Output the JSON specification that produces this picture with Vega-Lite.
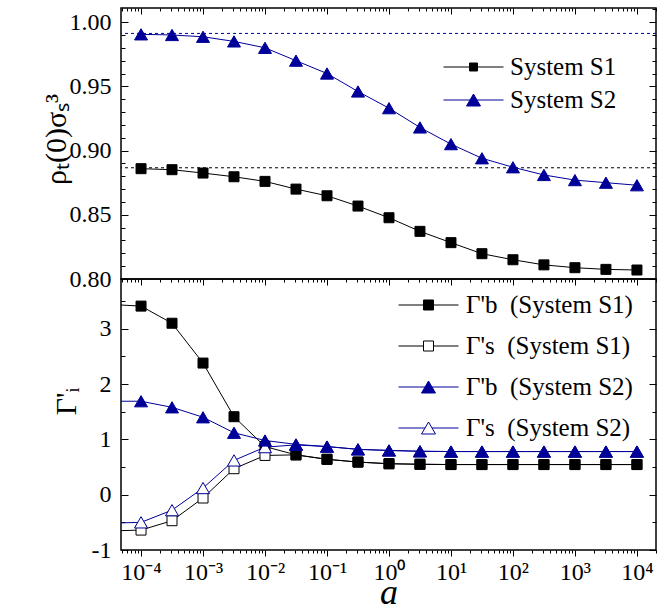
{
  "$schema": "https://vega.github.io/schema/vega-lite/v6.json",
  "padding": {"left": 40, "top": 6, "right": 5, "bottom": 2},
  "spacing": 0,
  "bounds": "flush",
  "config": {
    "font": "'Liberation Serif', 'Times New Roman', serif",
    "view": {"stroke": "black", "strokeWidth": 1.5},
    "axis": {"domain": false, "grid": false, "tickColor": "black", "tickWidth": 1, "labelColor": "black", "labelFont": "'Liberation Serif', 'Times New Roman', serif", "labelFontSize": 24, "titleFont": "'Liberation Serif', 'Times New Roman', serif", "titleColor": "black", "titleFontWeight": "normal", "labelFlush": false, "labelOverlap": false, "labelBound": false},
    "legend": {"labelFont": "'Liberation Serif', 'Times New Roman', serif", "labelFontSize": 25, "labelColor": "black", "labelLimit": 0, "padding": 0, "symbolStrokeWidth": 1, "symbolOpacity": 1, "clipHeight": 24, "direction": "vertical"}
  },
  "resolve": {"scale": {"color": "independent", "fill": "independent", "stroke": "independent", "shape": "independent"}},
  "datasets": {
    "top": [
      {"a": 0.0001, "v": 0.8859, "s": "System S1"},
      {"a": 0.000316, "v": 0.8851, "s": "System S1"},
      {"a": 0.001, "v": 0.8825, "s": "System S1"},
      {"a": 0.00316, "v": 0.8796, "s": "System S1"},
      {"a": 0.01, "v": 0.876, "s": "System S1"},
      {"a": 0.0316, "v": 0.870, "s": "System S1"},
      {"a": 0.1, "v": 0.8648, "s": "System S1"},
      {"a": 0.316, "v": 0.8568, "s": "System S1"},
      {"a": 1, "v": 0.8477, "s": "System S1"},
      {"a": 3.16, "v": 0.8371, "s": "System S1"},
      {"a": 10, "v": 0.8283, "s": "System S1"},
      {"a": 31.6, "v": 0.8197, "s": "System S1"},
      {"a": 100, "v": 0.815, "s": "System S1"},
      {"a": 316, "v": 0.811, "s": "System S1"},
      {"a": 1000, "v": 0.8088, "s": "System S1"},
      {"a": 3160, "v": 0.8075, "s": "System S1"},
      {"a": 10000, "v": 0.807, "s": "System S1"},
      {"a": 0.0001, "v": 0.9905, "s": "System S2"},
      {"a": 0.000316, "v": 0.990, "s": "System S2"},
      {"a": 0.001, "v": 0.9886, "s": "System S2"},
      {"a": 0.00316, "v": 0.985, "s": "System S2"},
      {"a": 0.01, "v": 0.980, "s": "System S2"},
      {"a": 0.0316, "v": 0.970, "s": "System S2"},
      {"a": 0.1, "v": 0.960, "s": "System S2"},
      {"a": 0.316, "v": 0.946, "s": "System S2"},
      {"a": 1, "v": 0.933, "s": "System S2"},
      {"a": 3.16, "v": 0.918, "s": "System S2"},
      {"a": 10, "v": 0.905, "s": "System S2"},
      {"a": 31.6, "v": 0.894, "s": "System S2"},
      {"a": 100, "v": 0.887, "s": "System S2"},
      {"a": 316, "v": 0.881, "s": "System S2"},
      {"a": 1000, "v": 0.877, "s": "System S2"},
      {"a": 3160, "v": 0.875, "s": "System S2"},
      {"a": 10000, "v": 0.873, "s": "System S2"}
    ],
    "bot": [
      {"a": 0.0000316, "v": -0.655, "s": "Γ's\u2002(System S1)"},
      {"a": 0.0001, "v": -0.64, "s": "Γ's\u2002(System S1)"},
      {"a": 0.000316, "v": -0.47, "s": "Γ's\u2002(System S1)"},
      {"a": 0.001, "v": -0.06, "s": "Γ's\u2002(System S1)"},
      {"a": 0.00316, "v": 0.47, "s": "Γ's\u2002(System S1)"},
      {"a": 0.01, "v": 0.71, "s": "Γ's\u2002(System S1)"},
      {"a": 0.0316, "v": 0.72, "s": "Γ's\u2002(System S1)"},
      {"a": 0.1, "v": 0.64, "s": "Γ's\u2002(System S1)"},
      {"a": 0.316, "v": 0.59, "s": "Γ's\u2002(System S1)"},
      {"a": 1, "v": 0.56, "s": "Γ's\u2002(System S1)"},
      {"a": 3.16, "v": 0.55, "s": "Γ's\u2002(System S1)"},
      {"a": 10, "v": 0.545, "s": "Γ's\u2002(System S1)"},
      {"a": 31.6, "v": 0.545, "s": "Γ's\u2002(System S1)"},
      {"a": 100, "v": 0.545, "s": "Γ's\u2002(System S1)"},
      {"a": 316, "v": 0.545, "s": "Γ's\u2002(System S1)"},
      {"a": 1000, "v": 0.545, "s": "Γ's\u2002(System S1)"},
      {"a": 3160, "v": 0.545, "s": "Γ's\u2002(System S1)"},
      {"a": 10000, "v": 0.545, "s": "Γ's\u2002(System S1)"},
      {"a": 0.0000316, "v": 3.44, "s": "Γ'b\u2002(System S1)"},
      {"a": 0.0001, "v": 3.41, "s": "Γ'b\u2002(System S1)"},
      {"a": 0.000316, "v": 3.10, "s": "Γ'b\u2002(System S1)"},
      {"a": 0.001, "v": 2.38, "s": "Γ'b\u2002(System S1)"},
      {"a": 0.00316, "v": 1.41, "s": "Γ'b\u2002(System S1)"},
      {"a": 0.01, "v": 0.87, "s": "Γ'b\u2002(System S1)"},
      {"a": 0.0316, "v": 0.72, "s": "Γ'b\u2002(System S1)"},
      {"a": 0.1, "v": 0.64, "s": "Γ'b\u2002(System S1)"},
      {"a": 0.316, "v": 0.59, "s": "Γ'b\u2002(System S1)"},
      {"a": 1, "v": 0.56, "s": "Γ'b\u2002(System S1)"},
      {"a": 3.16, "v": 0.55, "s": "Γ'b\u2002(System S1)"},
      {"a": 10, "v": 0.545, "s": "Γ'b\u2002(System S1)"},
      {"a": 31.6, "v": 0.545, "s": "Γ'b\u2002(System S1)"},
      {"a": 100, "v": 0.545, "s": "Γ'b\u2002(System S1)"},
      {"a": 316, "v": 0.545, "s": "Γ'b\u2002(System S1)"},
      {"a": 1000, "v": 0.545, "s": "Γ'b\u2002(System S1)"},
      {"a": 3160, "v": 0.545, "s": "Γ'b\u2002(System S1)"},
      {"a": 10000, "v": 0.545, "s": "Γ'b\u2002(System S1)"},
      {"a": 0.0000316, "v": -0.515, "s": "Γ's\u2002(System S2)"},
      {"a": 0.0001, "v": -0.50, "s": "Γ's\u2002(System S2)"},
      {"a": 0.000316, "v": -0.28, "s": "Γ's\u2002(System S2)"},
      {"a": 0.001, "v": 0.12, "s": "Γ's\u2002(System S2)"},
      {"a": 0.00316, "v": 0.62, "s": "Γ's\u2002(System S2)"},
      {"a": 0.01, "v": 0.86, "s": "Γ's\u2002(System S2)"},
      {"a": 0.0316, "v": 0.90, "s": "Γ's\u2002(System S2)"},
      {"a": 0.1, "v": 0.87, "s": "Γ's\u2002(System S2)"},
      {"a": 0.316, "v": 0.82, "s": "Γ's\u2002(System S2)"},
      {"a": 1, "v": 0.80, "s": "Γ's\u2002(System S2)"},
      {"a": 3.16, "v": 0.785, "s": "Γ's\u2002(System S2)"},
      {"a": 10, "v": 0.78, "s": "Γ's\u2002(System S2)"},
      {"a": 31.6, "v": 0.78, "s": "Γ's\u2002(System S2)"},
      {"a": 100, "v": 0.78, "s": "Γ's\u2002(System S2)"},
      {"a": 316, "v": 0.78, "s": "Γ's\u2002(System S2)"},
      {"a": 1000, "v": 0.78, "s": "Γ's\u2002(System S2)"},
      {"a": 3160, "v": 0.78, "s": "Γ's\u2002(System S2)"},
      {"a": 10000, "v": 0.78, "s": "Γ's\u2002(System S2)"},
      {"a": 0.0000316, "v": 1.69, "s": "Γ'b\u2002(System S2)"},
      {"a": 0.0001, "v": 1.69, "s": "Γ'b\u2002(System S2)"},
      {"a": 0.000316, "v": 1.58, "s": "Γ'b\u2002(System S2)"},
      {"a": 0.001, "v": 1.40, "s": "Γ'b\u2002(System S2)"},
      {"a": 0.00316, "v": 1.12, "s": "Γ'b\u2002(System S2)"},
      {"a": 0.01, "v": 0.98, "s": "Γ'b\u2002(System S2)"},
      {"a": 0.0316, "v": 0.91, "s": "Γ'b\u2002(System S2)"},
      {"a": 0.1, "v": 0.87, "s": "Γ'b\u2002(System S2)"},
      {"a": 0.316, "v": 0.82, "s": "Γ'b\u2002(System S2)"},
      {"a": 1, "v": 0.80, "s": "Γ'b\u2002(System S2)"},
      {"a": 3.16, "v": 0.785, "s": "Γ'b\u2002(System S2)"},
      {"a": 10, "v": 0.78, "s": "Γ'b\u2002(System S2)"},
      {"a": 31.6, "v": 0.78, "s": "Γ'b\u2002(System S2)"},
      {"a": 100, "v": 0.78, "s": "Γ'b\u2002(System S2)"},
      {"a": 316, "v": 0.78, "s": "Γ'b\u2002(System S2)"},
      {"a": 1000, "v": 0.78, "s": "Γ'b\u2002(System S2)"},
      {"a": 3160, "v": 0.78, "s": "Γ'b\u2002(System S2)"},
      {"a": 10000, "v": 0.78, "s": "Γ'b\u2002(System S2)"}
    ]
  },
  "vconcat": [
    {
      "width": 535,
      "height": 271,
      "resolve": {"scale": {"color": "independent", "fill": "independent", "stroke": "independent", "shape": "independent"}, "axis": {"x": "independent", "y": "independent"}},
      "layer": [
        {
          "data": {"values": [{"v": 0.9912}]},
          "mark": {"type": "rule", "color": "#000099", "strokeDash": [3, 3], "strokeWidth": 1},
          "encoding": {"y": {"field": "v", "type": "quantitative", "scale": {"domain": [0.8, 1.011], "nice": false, "zero": false}, "axis": null}}
        },
        {
          "data": {"values": [{"v": 0.8866}]},
          "mark": {"type": "rule", "color": "black", "strokeDash": [3, 3], "strokeWidth": 1},
          "encoding": {"y": {"field": "v", "type": "quantitative", "scale": {"domain": [0.8, 1.011], "nice": false, "zero": false}, "axis": null}}
        },
        {
          "data": {"name": "top"},
          "mark": {"type": "line", "strokeWidth": 1, "clip": true},
          "encoding": {
            "x": {"field": "a", "type": "quantitative", "scale": {"type": "log", "domain": [0.0000475, 20300], "nice": false}, "axis": null},
            "y": {"field": "v", "type": "quantitative", "scale": {"domain": [0.8, 1.011], "nice": false, "zero": false},
              "axis": {"orient": "left", "values": [0.80, 0.81, 0.82, 0.83, 0.84, 0.85, 0.86, 0.87, 0.88, 0.89, 0.90, 0.91, 0.92, 0.93, 0.94, 0.95, 0.96, 0.97, 0.98, 0.99, 1.00],
                "labelExpr": "abs(datum.value*20 - round(datum.value*20)) < 0.01 ? format(datum.value, '.2f') : ''",
                "tickSize": {"condition": {"test": "abs(datum.value*20 - round(datum.value*20)) < 0.01", "value": -7}, "value": -4},
                "labelPadding": 17, "title": "ρₜ(0)σₛ³", "titleFontSize": 30, "titlePadding": -2, "titleY": 131}},
            "color": {"field": "s", "type": "nominal", "scale": {"domain": ["System S1", "System S2"], "range": ["black", "#000099"]}, "legend": null}
          }
        },
        {
          "data": {"name": "top"},
          "transform": [{"filter": {"field": "s", "equal": "System S1"}}],
          "mark": {"type": "point", "shape": "square", "filled": true, "size": 100, "color": "black", "stroke": "black", "strokeWidth": 1, "opacity": 1, "clip": true},
          "encoding": {
            "x": {"field": "a", "type": "quantitative", "scale": {"type": "log", "domain": [0.0000475, 20300], "nice": false},
              "axis": {"orient": "top", "labels": false, "title": null,
                "values": [0.00005,0.00006,0.00007,0.00008,0.00009,0.0001,0.0002,0.0003,0.0004,0.0005,0.0006,0.0007,0.0008,0.0009,0.001,0.002,0.003,0.004,0.005,0.006,0.007,0.008,0.009,0.01,0.02,0.03,0.04,0.05,0.06,0.07,0.08,0.09,0.1,0.2,0.3,0.4,0.5,0.6,0.7,0.8,0.9,1,2,3,4,5,6,7,8,9,10,20,30,40,50,60,70,80,90,100,200,300,400,500,600,700,800,900,1000,2000,3000,4000,5000,6000,7000,8000,9000,10000,20000],
                "tickSize": {"condition": {"test": "abs(log(datum.value)/LN10 - round(log(datum.value)/LN10)) < 0.01", "value": -6}, "value": -3}}},
            "y": {"field": "v", "type": "quantitative", "scale": {"domain": [0.8, 1.011], "nice": false, "zero": false},
              "axis": {"orient": "right", "labels": false, "title": null, "values": [0.80, 0.81, 0.82, 0.83, 0.84, 0.85, 0.86, 0.87, 0.88, 0.89, 0.90, 0.91, 0.92, 0.93, 0.94, 0.95, 0.96, 0.97, 0.98, 0.99, 1.00, 1.01],
                "tickSize": {"condition": {"test": "abs(datum.value*20 - round(datum.value*20)) < 0.01", "value": -7}, "value": -4}}}
          }
        },
        {
          "data": {"name": "top"},
          "transform": [{"filter": {"field": "s", "equal": "System S2"}}],
          "mark": {"type": "point", "shape": "triangle-up", "filled": true, "size": 169, "color": "#000099", "stroke": "#000099", "strokeWidth": 1, "opacity": 1, "clip": true},
          "encoding": {
            "x": {"field": "a", "type": "quantitative", "scale": {"type": "log", "domain": [0.0000475, 20300], "nice": false}, "axis": null},
            "y": {"field": "v", "type": "quantitative", "scale": {"domain": [0.8, 1.011], "nice": false, "zero": false}, "axis": null}
          }
        },
        {
          "data": {"name": "top"},
          "transform": [{"filter": "false"}],
          "mark": {"type": "point", "filled": true, "strokeWidth": 1},
          "encoding": {
            "shape": {"field": "s", "type": "nominal", "scale": {"domain": ["System S1", "System S2"], "range": ["M-1,0L-0.133,0M0.133,0L1,0M-0.133,-0.133L0.133,-0.133L0.133,0.133L-0.133,0.133Z", "M-1,0L-0.117,0M0.117,0L1,0M0,-0.2L0.233,0.2L-0.233,0.2Z"]},
              "legend": {"title": null, "orient": "none", "legendX": 322, "legendY": 47, "symbolSize": 3600, "rowPadding": 8, "labelOffset": 6}},
            "fill": {"field": "s", "type": "nominal", "scale": {"domain": ["System S1", "System S2"], "range": ["black", "#000099"]},
              "legend": {"title": null, "orient": "none", "legendX": 322, "legendY": 47, "symbolSize": 3600, "rowPadding": 8, "labelOffset": 6}},
            "stroke": {"field": "s", "type": "nominal", "scale": {"domain": ["System S1", "System S2"], "range": ["black", "#000099"]},
              "legend": {"title": null, "orient": "none", "legendX": 322, "legendY": 47, "symbolSize": 3600, "rowPadding": 8, "labelOffset": 6}}
          }
        }
      ]
    },
    {
      "width": 535,
      "height": 271,
      "resolve": {"scale": {"color": "independent", "fill": "independent", "stroke": "independent", "shape": "independent"}, "axis": {"x": "independent", "y": "independent"}},
      "layer": [
        {
          "data": {"name": "bot"},
          "mark": {"type": "line", "strokeWidth": 1, "clip": true},
          "encoding": {
            "x": {"field": "a", "type": "quantitative", "scale": {"type": "log", "domain": [0.0000475, 20300], "nice": false},
              "axis": {"orient": "bottom",
                "values": [0.00005,0.00006,0.00007,0.00008,0.00009,0.0001,0.0002,0.0003,0.0004,0.0005,0.0006,0.0007,0.0008,0.0009,0.001,0.002,0.003,0.004,0.005,0.006,0.007,0.008,0.009,0.01,0.02,0.03,0.04,0.05,0.06,0.07,0.08,0.09,0.1,0.2,0.3,0.4,0.5,0.6,0.7,0.8,0.9,1,2,3,4,5,6,7,8,9,10,20,30,40,50,60,70,80,90,100,200,300,400,500,600,700,800,900,1000,2000,3000,4000,5000,6000,7000,8000,9000,10000,20000],
                "labelExpr": "abs(log(datum.value)/LN10 - round(log(datum.value)/LN10)) < 0.01 ? '10' + ['⁻⁴','⁻³','⁻²','⁻¹','⁰','¹','²','³','⁴'][round(log(datum.value)/LN10) + 4] : ''",
                "tickSize": {"condition": {"test": "abs(log(datum.value)/LN10 - round(log(datum.value)/LN10)) < 0.01", "value": 6}, "value": 3},
                "labelPadding": 4, "title": "a", "titleFontStyle": "italic", "titleFontSize": 36, "titlePadding": -9}},
            "y": {"field": "v", "type": "quantitative", "scale": {"domain": [-1, 3.9], "nice": false, "zero": false},
              "axis": {"orient": "left", "values": [-1, -0.5, 0, 0.5, 1, 1.5, 2, 2.5, 3, 3.5],
                "labelExpr": "abs(datum.value - round(datum.value)) < 0.01 ? toString(round(datum.value)) : ''",
                "tickSize": {"condition": {"test": "abs(datum.value - round(datum.value)) < 0.01", "value": -7}, "value": -4},
                "labelPadding": 17, "title": "Γ'ᵢ", "titleFontSize": 30, "titlePadding": 10, "titleY": 122}},
            "color": {"field": "s", "type": "nominal", "scale": {"domain": ["Γ'b\u2002(System S1)", "Γ's\u2002(System S1)", "Γ'b\u2002(System S2)", "Γ's\u2002(System S2)"], "range": ["black", "black", "#000099", "#000099"]}, "legend": null}
          }
        },
        {
          "data": {"name": "bot"},
          "transform": [{"filter": {"field": "s", "oneOf": ["Γ's\u2002(System S1)", "Γ'b\u2002(System S1)"]}}],
          "mark": {"type": "point", "shape": "square", "filled": true, "size": 100, "strokeWidth": 1, "opacity": 1, "clip": true},
          "encoding": {
            "x": {"field": "a", "type": "quantitative", "scale": {"type": "log", "domain": [0.0000475, 20300], "nice": false},
              "axis": {"orient": "top", "labels": false, "title": null,
                "values": [0.00005,0.00006,0.00007,0.00008,0.00009,0.0001,0.0002,0.0003,0.0004,0.0005,0.0006,0.0007,0.0008,0.0009,0.001,0.002,0.003,0.004,0.005,0.006,0.007,0.008,0.009,0.01,0.02,0.03,0.04,0.05,0.06,0.07,0.08,0.09,0.1,0.2,0.3,0.4,0.5,0.6,0.7,0.8,0.9,1,2,3,4,5,6,7,8,9,10,20,30,40,50,60,70,80,90,100,200,300,400,500,600,700,800,900,1000,2000,3000,4000,5000,6000,7000,8000,9000,10000,20000],
                "tickSize": {"condition": {"test": "abs(log(datum.value)/LN10 - round(log(datum.value)/LN10)) < 0.01", "value": -6}, "value": -3}}},
            "y": {"field": "v", "type": "quantitative", "scale": {"domain": [-1, 3.9], "nice": false, "zero": false},
              "axis": {"orient": "right", "labels": false, "title": null, "values": [-1, -0.5, 0, 0.5, 1, 1.5, 2, 2.5, 3, 3.5],
                "tickSize": {"condition": {"test": "abs(datum.value - round(datum.value)) < 0.01", "value": -7}, "value": -4}}},
            "fill": {"field": "s", "type": "nominal", "scale": {"domain": ["Γ'b\u2002(System S1)", "Γ's\u2002(System S1)"], "range": ["black", "white"]}, "legend": null},
            "stroke": {"field": "s", "type": "nominal", "scale": {"domain": ["Γ'b\u2002(System S1)", "Γ's\u2002(System S1)"], "range": ["black", "black"]}, "legend": null}
          }
        },
        {
          "data": {"name": "bot"},
          "transform": [{"filter": {"field": "s", "oneOf": ["Γ's\u2002(System S2)", "Γ'b\u2002(System S2)"]}}],
          "mark": {"type": "point", "shape": "triangle-up", "filled": true, "size": 169, "strokeWidth": 1, "opacity": 1, "clip": true},
          "encoding": {
            "x": {"field": "a", "type": "quantitative", "scale": {"type": "log", "domain": [0.0000475, 20300], "nice": false}, "axis": null},
            "y": {"field": "v", "type": "quantitative", "scale": {"domain": [-1, 3.9], "nice": false, "zero": false}, "axis": null},
            "fill": {"field": "s", "type": "nominal", "scale": {"domain": ["Γ'b\u2002(System S2)", "Γ's\u2002(System S2)"], "range": ["#000099", "white"]}, "legend": null},
            "stroke": {"field": "s", "type": "nominal", "scale": {"domain": ["Γ'b\u2002(System S2)", "Γ's\u2002(System S2)"], "range": ["#000099", "#000099"]}, "legend": null}
          }
        },
        {
          "data": {"name": "bot"},
          "transform": [{"filter": "false"}],
          "mark": {"type": "point", "filled": true, "strokeWidth": 1},
          "encoding": {
            "shape": {"field": "s", "type": "nominal", "scale": {"domain": ["Γ'b\u2002(System S1)", "Γ's\u2002(System S1)", "Γ'b\u2002(System S2)", "Γ's\u2002(System S2)"], "range": ["M-1,0L-0.167,0M0.167,0L1,0M-0.167,-0.167L0.167,-0.167L0.167,0.167L-0.167,0.167Z", "M-1,0L-0.167,0M0.167,0L1,0M-0.167,-0.167L0.167,-0.167L0.167,0.167L-0.167,0.167Z", "M-1,0L-0.117,0M0.117,0L1,0M0,-0.2L0.233,0.2L-0.233,0.2Z", "M-1,0L-0.117,0M0.117,0L1,0M0,-0.2L0.233,0.2L-0.233,0.2Z"]},
              "legend": {"title": null, "orient": "none", "legendX": 277, "legendY": 14, "symbolSize": 3600, "rowPadding": 16, "labelOffset": 7}},
            "fill": {"field": "s", "type": "nominal", "scale": {"domain": ["Γ'b\u2002(System S1)", "Γ's\u2002(System S1)", "Γ'b\u2002(System S2)", "Γ's\u2002(System S2)"], "range": ["black", "white", "#000099", "white"]},
              "legend": {"title": null, "orient": "none", "legendX": 277, "legendY": 14, "symbolSize": 3600, "rowPadding": 16, "labelOffset": 7}},
            "stroke": {"field": "s", "type": "nominal", "scale": {"domain": ["Γ'b\u2002(System S1)", "Γ's\u2002(System S1)", "Γ'b\u2002(System S2)", "Γ's\u2002(System S2)"], "range": ["black", "black", "#000099", "#000099"]},
              "legend": {"title": null, "orient": "none", "legendX": 277, "legendY": 14, "symbolSize": 3600, "rowPadding": 16, "labelOffset": 7}}
          }
        }
      ]
    }
  ]
}
